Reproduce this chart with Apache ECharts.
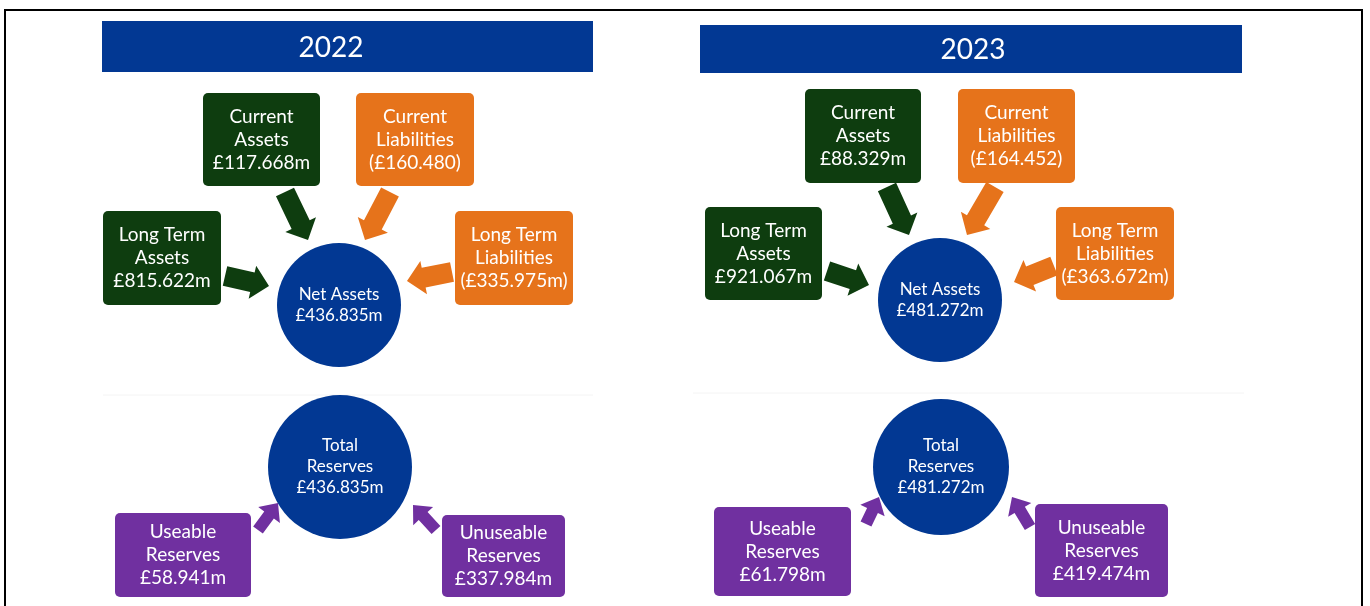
<!DOCTYPE html>
<html>
<head>
<meta charset="utf-8">
<title>Net Assets and Reserves 2022 / 2023</title>
<script src="https://cdn.jsdelivr.net/npm/echarts@6/dist/echarts.min.js"></script>
<style>
  html, body { margin: 0; padding: 0; background: #fff; }
  #chart { width: 1370px; height: 606px; }
</style>
</head>
<body>
<div id="chart"></div>
<script>
// values (£m), one entry per year
const years = ['2022', '2023'];
const currentAssets = [117.668, 88.329];
const currentLiabilities = [160.480, 164.452];
const longTermAssets = [815.622, 921.067];
const longTermLiabilities = [335.975, 363.672];
const netAssets = [436.835, 481.272];
const useableReserves = [58.941, 61.798];
const unuseableReserves = [337.984, 419.474];
const totalReserves = [436.835, 481.272];

const GREEN = '#0e3d0f';
const ORANGE = '#e6731b';
const PURPLE = '#7030a0';
const BLUE = '#023893';
const FONT = 'Lato, "Open Sans", sans-serif';

// layout of each year panel, in page pixels (axes are 1:1 with the page)
const layouts = [
  {
    header: [102, 21, 491, 51], titleX: 331,
    ca: [203, 93, 117, 93], cl: [356, 93, 118, 93],
    lta: [103, 211, 118, 94], ltl: [455, 211, 118, 94],
    net: [339, 305, 62], total: [340, 467, 72],
    ur: [115, 513, 136, 84], unr: [442, 515, 123, 82],
    aCa: [285, 192, 308, 240], aCl: [390, 192, 365, 240],
    aLta: [225, 276, 269, 286], aLtl: [452, 272, 407, 281],
    aUr: [258, 530, 278, 503], aUnr: [436, 530, 413, 505],
    sep: [103, 395, 593]
  },
  {
    header: [700, 25, 542, 48], titleX: 973,
    ca: [805, 89, 116, 94], cl: [958, 89, 117, 94],
    lta: [705, 207, 117, 93], ltl: [1056, 207, 118, 93],
    net: [940, 300, 62], total: [941, 467, 68],
    ur: [714, 507, 137, 89], unr: [1035, 504, 133, 93],
    aCa: [887, 187, 909, 235], aCl: [995, 187, 967, 235],
    aLta: [827, 271, 869, 285], aLtl: [1054, 266, 1014, 282],
    aUr: [866, 524, 879, 497], aUnr: [1030, 527, 1012, 497],
    sep: [693, 393, 1244]
  }
];

const money = v => '£' + v.toFixed(3) + 'm';

const boxes = [];
const circles = [];
const arrows = [];
const headers = [];
years.forEach((yr, i) => {
  const L = layouts[i];
  headers.push({ value: L.header.concat([L.titleX]), text: yr });
  boxes.push({ value: L.ca, text: 'Current\nAssets\n' + money(currentAssets[i]), color: GREEN });
  boxes.push({ value: L.cl, text: 'Current\nLiabilities\n(£' + currentLiabilities[i].toFixed(3) + ')', color: ORANGE });
  boxes.push({ value: L.lta, text: 'Long Term\nAssets\n' + money(longTermAssets[i]), color: GREEN });
  boxes.push({ value: L.ltl, text: 'Long Term\nLiabilities\n(' + money(longTermLiabilities[i]) + ')', color: ORANGE });
  boxes.push({ value: L.ur, text: 'Useable\nReserves\n' + money(useableReserves[i]), color: PURPLE });
  boxes.push({ value: L.unr, text: 'Unuseable\nReserves\n' + money(unuseableReserves[i]), color: PURPLE });
  circles.push({ value: L.net, text: 'Net Assets\n' + money(netAssets[i]) });
  circles.push({ value: L.total, text: 'Total\nReserves\n' + money(totalReserves[i]) });
  arrows.push({ value: L.aCa, color: GREEN, big: true });
  arrows.push({ value: L.aCl, color: ORANGE, big: true });
  arrows.push({ value: L.aLta, color: GREEN, big: true });
  arrows.push({ value: L.aLtl, color: ORANGE, big: true });
  arrows.push({ value: L.aUr, color: PURPLE, big: false });
  arrows.push({ value: L.aUnr, color: PURPLE, big: false });
});

function arrowPoints(p0, p1, sw, hw, hl) {
  const dx = p1[0] - p0[0], dy = p1[1] - p0[1];
  const len = Math.sqrt(dx * dx + dy * dy);
  const ux = dx / len, uy = dy / len;
  const nx = -uy, ny = ux;
  const bx = p1[0] - ux * hl, by = p1[1] - uy * hl;
  return [
    [p0[0] + nx * sw / 2, p0[1] + ny * sw / 2],
    [bx + nx * sw / 2, by + ny * sw / 2],
    [bx + nx * hw / 2, by + ny * hw / 2],
    [p1[0], p1[1]],
    [bx - nx * hw / 2, by - ny * hw / 2],
    [bx - nx * sw / 2, by - ny * sw / 2],
    [p0[0] - nx * sw / 2, p0[1] - ny * sw / 2]
  ];
}

const chart = echarts.init(document.getElementById('chart'));
chart.setOption({
  animation: false,
  backgroundColor: '#fff',
  grid: { left: 0, right: 0, top: 0, bottom: 0 },
  xAxis: { type: 'value', min: 0, max: 1370, show: false },
  yAxis: { type: 'value', min: 0, max: 606, inverse: true, show: false },
  graphic: [
    {
      type: 'polyline', silent: true,
      shape: { points: [[5, 610], [5, 10], [1362, 10], [1362, 610]] },
      style: { stroke: '#000', lineWidth: 2, fill: null }
    }
  ].concat(layouts.map(L => ({
    type: 'line', silent: true,
    shape: { x1: L.sep[0], y1: L.sep[1], x2: L.sep[2], y2: L.sep[1] },
    style: { stroke: '#f4f4f4', lineWidth: 1 }
  }))),
  series: [
    {
      type: 'custom',
      name: 'headers',
      data: headers,
      renderItem(params, api) {
        const d = headers[params.dataIndex];
        const p = api.coord([d.value[0], d.value[1]]);
        const s = api.size([d.value[2], d.value[3]]);
        const tx = api.coord([d.value[4], 0])[0];
        return {
          type: 'group',
          children: [
            { type: 'rect', shape: { x: p[0], y: p[1], width: s[0], height: s[1] }, style: { fill: BLUE } },
            {
              type: 'text',
              style: {
                text: d.text, x: tx, y: p[1] + s[1] / 2 + 1,
                fill: '#fff', font: '28px ' + FONT, align: 'center', verticalAlign: 'middle'
              }
            }
          ]
        };
      }
    },
    {
      type: 'custom',
      name: 'arrows',
      data: arrows,
      renderItem(params, api) {
        const d = arrows[params.dataIndex];
        const p0 = api.coord([d.value[0], d.value[1]]);
        const p1 = api.coord([d.value[2], d.value[3]]);
        const pts = d.big ? arrowPoints(p0, p1, 20, 34, 17) : arrowPoints(p0, p1, 12, 27, 15);
        return { type: 'polygon', shape: { points: pts }, style: { fill: d.color } };
      }
    },
    {
      type: 'custom',
      name: 'boxes',
      data: boxes,
      renderItem(params, api) {
        const d = boxes[params.dataIndex];
        const p = api.coord([d.value[0], d.value[1]]);
        const s = api.size([d.value[2], d.value[3]]);
        return {
          type: 'group',
          children: [
            { type: 'rect', shape: { x: p[0], y: p[1], width: s[0], height: s[1], r: 5 }, style: { fill: d.color } },
            {
              type: 'text',
              style: {
                text: d.text, x: p[0] + s[0] / 2, y: p[1] + s[1] / 2,
                fill: '#fff', font: '19px ' + FONT, lineHeight: 23,
                align: 'center', verticalAlign: 'middle'
              }
            }
          ]
        };
      }
    },
    {
      type: 'custom',
      name: 'circles',
      data: circles,
      renderItem(params, api) {
        const d = circles[params.dataIndex];
        const c = api.coord([d.value[0], d.value[1]]);
        const r = api.size([d.value[2], 0])[0];
        return {
          type: 'group',
          children: [
            { type: 'circle', shape: { cx: c[0], cy: c[1], r: r }, style: { fill: BLUE } },
            {
              type: 'text',
              style: {
                text: d.text, x: c[0], y: c[1],
                fill: '#fff', font: '17px ' + FONT, lineHeight: 21,
                align: 'center', verticalAlign: 'middle'
              }
            }
          ]
        };
      }
    }
  ]
});
</script>
</body>
</html>
